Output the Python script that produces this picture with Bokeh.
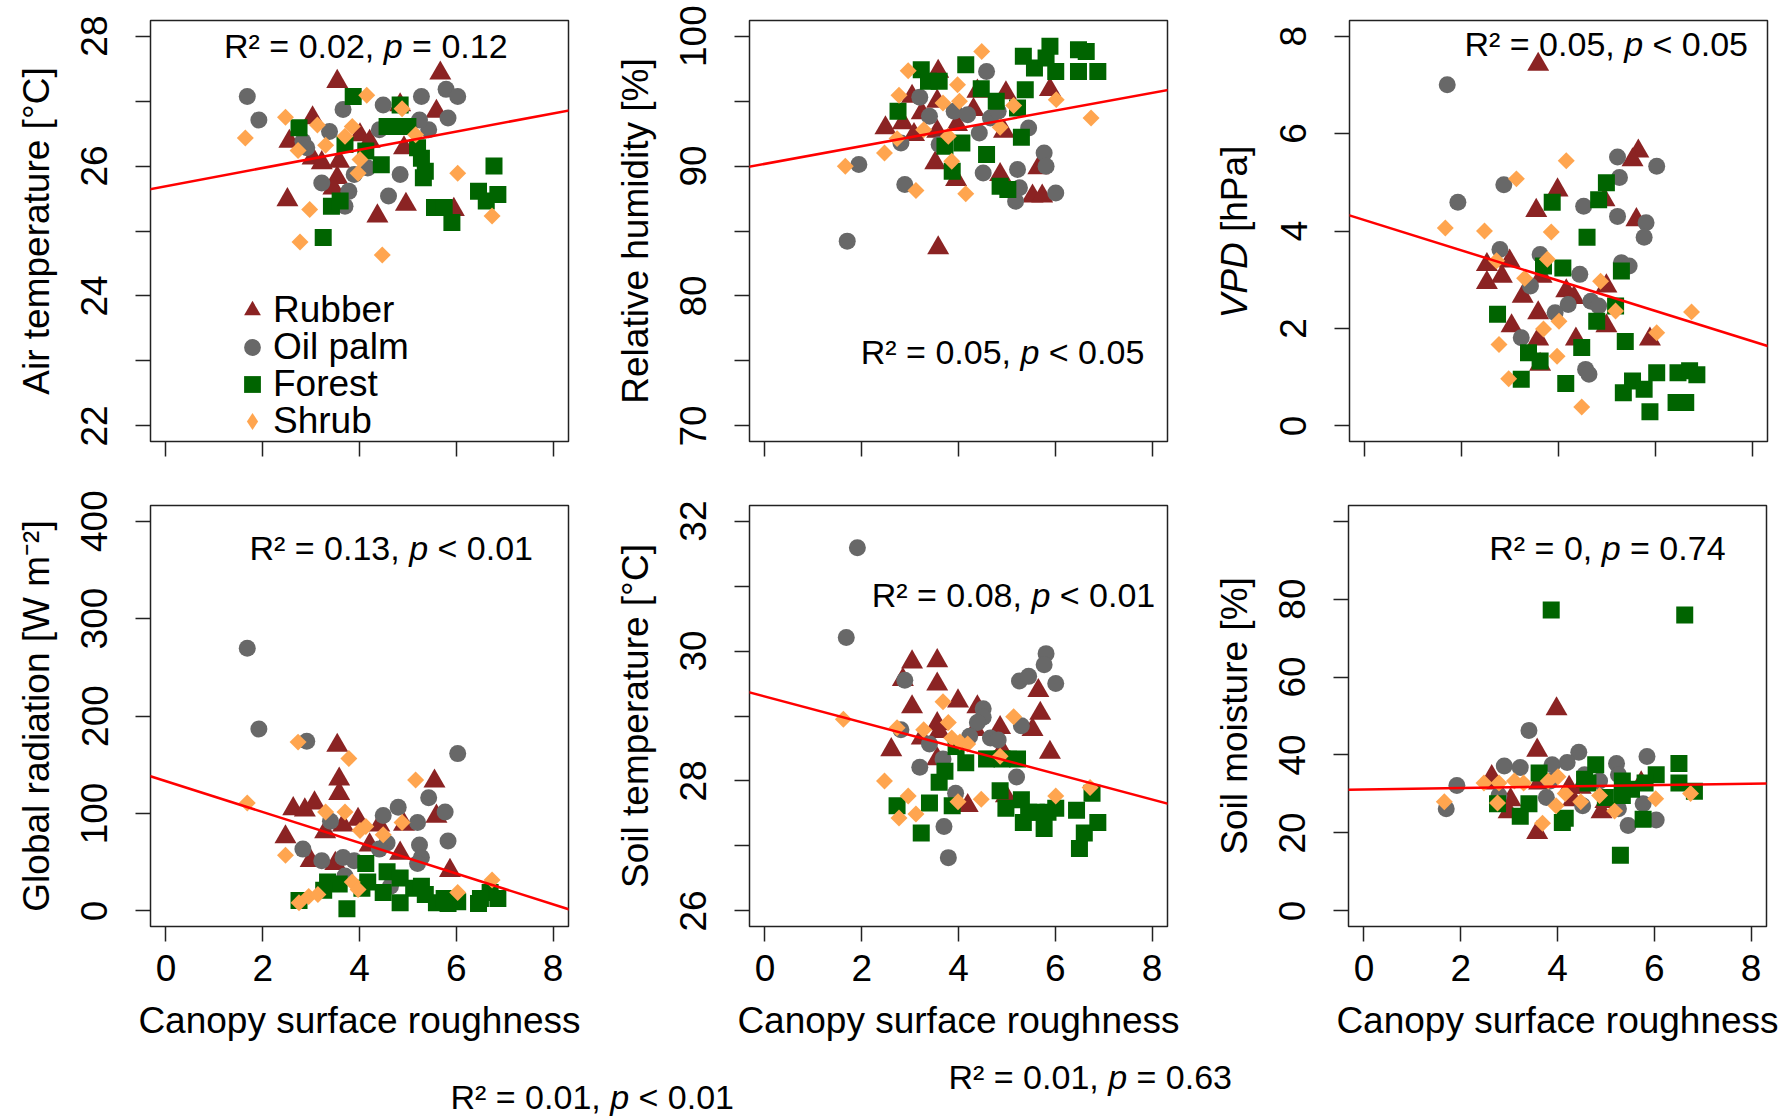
import math
from bokeh.plotting import figure
from bokeh.models import Range1d, FixedTicker, Slope, Legend, LegendItem
from bokeh.layouts import column, row
from bokeh.embed import file_html
from bokeh.resources import INLINE
from bokeh.core.properties import value

# ------------------------------------------------------------------ data
groups = ["Rubber", "Oil palm", "Forest", "Shrub"]
x_ticks = [0, 2, 4, 6, 8]
x_title = "Canopy surface roughness"

# Panel 1: air temperature
AT_rub_x = [3.54, 5.67, 4.84, 3.03, 5.59, 2.55, 4.01, 4.21, 3.03, 3.22, 3.58, 3.54, 3.46, 4.92, 2.51, 4.37, 4.96, 5.95]
AT_rub_y = [27.30, 27.43, 26.94, 26.74, 26.84, 26.38, 26.48, 26.38, 26.12, 26.05, 26.07, 25.82, 25.66, 26.28, 25.48, 25.23, 25.41, 25.33]
AT_oil_x = [1.68, 1.92, 3.66, 4.49, 5.28, 5.79, 6.03, 5.83, 3.38, 4.41, 5.43, 2.83, 2.91, 5.24, 4.17, 4.84, 3.22, 3.78, 4.60, 3.70, 3.89]
AT_oil_y = [27.07, 26.71, 26.87, 26.94, 27.07, 27.18, 27.07, 26.74, 26.53, 26.56, 26.56, 26.38, 26.28, 26.71, 25.97, 25.87, 25.74, 25.61, 25.54, 25.38, 25.87]
AT_for_x = [2.75, 3.87, 4.84, 4.57, 4.80, 5.00, 3.70, 4.13, 5.20, 5.28, 5.36, 5.32, 4.45, 6.78, 6.46, 6.62, 6.86, 3.42, 3.60, 5.55, 5.75, 5.91, 3.25]
AT_for_y = [26.59, 27.07, 26.94, 26.61, 26.61, 26.61, 26.33, 26.23, 26.28, 26.12, 25.92, 25.82, 26.02, 26.00, 25.61, 25.46, 25.56, 25.38, 25.46, 25.36, 25.36, 25.13, 24.90]
AT_shr_x = [1.64, 2.47, 3.13, 2.73, 3.30, 3.70, 3.85, 4.15, 4.88, 5.16, 4.01, 3.97, 6.03, 2.97, 6.74, 2.77, 4.47]
AT_shr_y = [26.43, 26.75, 26.63, 26.24, 26.32, 26.46, 26.61, 27.09, 26.88, 26.48, 26.10, 25.89, 25.89, 25.33, 25.23, 24.83, 24.63]

# Panel 2: relative humidity
RH_rub_x = [3.58, 5.89, 4.98, 4.39, 3.04, 3.56, 3.24, 4.31, 2.49, 2.85, 3.08, 3.56, 3.97, 4.94, 3.52, 3.95, 4.86, 5.65, 5.53, 5.73, 3.58]
RH_rub_y = [97.28, 95.87, 95.62, 95.75, 95.36, 94.98, 94.08, 94.34, 92.93, 93.31, 92.42, 92.67, 93.18, 92.67, 90.24, 88.96, 89.34, 89.85, 87.68, 87.68, 83.70]
RH_oil_x = [1.70, 1.94, 2.89, 3.20, 3.40, 2.81, 3.91, 4.19, 4.58, 4.66, 4.43, 4.82, 5.45, 5.26, 5.22, 5.18, 4.51, 5.77, 5.81, 6.01, 3.60]
RH_oil_y = [84.22, 90.11, 88.57, 95.29, 93.83, 91.78, 94.21, 93.95, 97.28, 93.70, 92.54, 94.21, 92.93, 88.32, 89.73, 87.29, 89.47, 91.01, 89.98, 87.93, 91.65]
RH_for_x = [3.23, 3.38, 3.60, 2.75, 4.15, 4.47, 4.78, 5.22, 5.38, 5.34, 5.57, 5.81, 5.89, 6.01, 6.48, 6.64, 6.48, 6.88, 5.30, 3.72, 4.07, 4.58, 3.87, 4.86, 5.02]
RH_for_y = [97.41, 96.52, 96.52, 94.21, 97.80, 95.95, 94.98, 94.47, 95.88, 98.44, 97.54, 98.31, 99.21, 97.28, 98.95, 98.82, 97.28, 97.28, 92.21, 91.52, 91.78, 90.88, 89.60, 88.44, 88.19]
RH_shr_x = [1.66, 2.47, 2.73, 2.77, 2.96, 3.12, 3.28, 3.68, 3.79, 3.86, 3.98, 4.02, 4.15, 4.48, 4.86, 5.14, 6.02, 6.74]
RH_shr_y = [89.98, 91.01, 92.11, 95.44, 97.34, 88.11, 92.80, 94.85, 92.29, 90.37, 96.26, 94.98, 87.86, 98.82, 92.98, 94.65, 95.11, 93.70]

# Panel 3: vapour pressure deficit
VPD_rub_x = [3.58, 5.65, 5.53, 3.98, 3.54, 4.95, 5.61, 2.52, 2.99, 2.52, 2.83, 3.65, 3.26, 4.16, 4.32, 3.58, 3.03, 4.99, 3.58, 4.36, 5.89, 3.62, 4.99]
VPD_rub_y = [7.42, 5.64, 5.46, 4.84, 4.42, 4.64, 4.23, 3.31, 3.38, 2.94, 3.07, 3.07, 2.66, 2.77, 2.63, 2.32, 2.05, 2.05, 1.78, 1.78, 1.78, 1.26, 2.87]
VPD_oil_x = [1.70, 1.92, 2.87, 2.79, 5.22, 5.26, 6.03, 4.52, 5.22, 5.81, 5.77, 3.62, 4.44, 5.30, 5.46, 3.42, 4.20, 4.67, 4.83, 3.93, 3.23, 4.56, 4.63]
VPD_oil_y = [7.00, 4.59, 4.95, 3.62, 5.52, 5.10, 5.33, 4.51, 4.30, 4.17, 3.87, 3.52, 3.11, 3.35, 3.28, 2.87, 2.49, 2.56, 2.46, 2.32, 1.81, 1.16, 1.06]
VPD_for_x = [4.99, 4.83, 3.87, 4.59, 3.69, 4.09, 5.30, 5.18, 2.74, 4.79, 5.38, 4.48, 3.38, 3.62, 3.23, 4.15, 5.34, 5.53, 5.77, 6.03, 5.89, 6.47, 6.71, 6.86, 6.43, 6.63]
VPD_for_y = [4.99, 4.64, 4.59, 3.87, 3.28, 3.24, 3.18, 2.46, 2.29, 2.15, 1.73, 1.61, 1.50, 1.33, 0.96, 0.87, 0.68, 0.92, 0.75, 1.09, 0.29, 1.09, 1.13, 1.05, 0.48, 0.48]
VPD_shr_x = [1.66, 2.47, 2.72, 3.13, 4.16, 3.85, 3.77, 3.30, 4.87, 5.18, 3.69, 4.01, 2.77, 3.97, 2.97, 6.03, 6.75, 4.48]
VPD_shr_y = [4.06, 4.00, 3.39, 5.07, 5.44, 3.98, 3.42, 3.03, 2.97, 2.36, 1.99, 2.15, 1.67, 1.43, 0.97, 1.91, 2.34, 0.39]

# Panel 4: global radiation
RAD_rub_x = [3.54, 3.58, 3.58, 5.55, 2.63, 2.87, 3.07, 2.47, 3.29, 3.97, 3.66, 4.41, 5.59, 4.92, 4.84, 4.21, 2.99, 3.50, 5.87]
RAD_rub_y = [169.8, 135.2, 120.4, 133.1, 104.8, 103.5, 110.7, 76.0, 81.1, 93.8, 87.9, 87.9, 97.1, 88.7, 59.1, 67.6, 51.5, 48.6, 41.4]
RAD_oil_x = [1.68, 1.92, 2.91, 6.03, 5.43, 5.77, 4.80, 4.49, 5.20, 3.40, 5.83, 5.24, 4.57, 4.41, 2.83, 3.22, 3.66, 3.89, 5.28, 5.20, 3.70, 4.64]
RAD_oil_y = [269.5, 186.7, 174.0, 161.4, 116.2, 101.4, 106.4, 98.0, 90.8, 92.1, 71.8, 67.6, 69.7, 63.4, 63.4, 51.5, 54.9, 51.5, 54.9, 48.6, 35.9, 25.3]
RAD_for_x = [4.13, 4.57, 4.84, 3.34, 3.58, 4.17, 4.49, 5.12, 5.28, 5.36, 4.84, 5.59, 5.83, 6.03, 6.46, 6.70, 6.86, 6.50, 2.75, 3.26, 3.74, 4.05, 5.75]
RAD_for_y = [48.6, 40.1, 33.8, 29.6, 27.5, 29.6, 19.0, 23.2, 25.3, 16.9, 8.4, 8.4, 7.6, 9.3, 7.6, 19.0, 12.7, 12.7, 10.6, 21.1, 2.1, 23.2, 12.7]
RAD_shr_x = [1.68, 2.47, 2.73, 3.78, 3.30, 3.70, 4.01, 4.13, 4.49, 4.88, 5.16, 2.75, 2.95, 3.14, 3.85, 3.97, 6.03, 6.74]
RAD_shr_y = [110.7, 57.0, 173.2, 156.3, 101.4, 101.4, 82.4, 86.6, 78.1, 90.8, 134.3, 8.4, 14.8, 16.9, 29.6, 22.0, 19.0, 31.7]

# Panel 5: soil temperature
ST_rub_x = [3.04, 3.56, 3.56, 2.85, 3.99, 3.04, 4.39, 5.65, 5.69, 5.53, 4.86, 3.56, 3.60, 4.35, 3.24, 2.61, 5.89, 4.90, 4.19, 4.98, 3.56]
ST_rub_y = [29.83, 29.85, 29.49, 29.56, 29.23, 29.14, 29.14, 29.39, 29.04, 28.79, 28.82, 28.88, 28.76, 28.79, 28.66, 28.48, 28.44, 28.47, 27.62, 27.77, 28.34]
ST_oil_x = [1.91, 1.68, 2.89, 5.81, 5.77, 6.01, 5.26, 5.45, 4.51, 4.51, 4.39, 5.30, 4.66, 4.82, 4.23, 2.81, 3.40, 3.68, 3.20, 5.20, 3.94, 3.70, 3.79]
ST_oil_y = [31.59, 30.21, 29.55, 29.96, 29.79, 29.50, 29.54, 29.61, 29.11, 28.98, 28.90, 28.85, 28.66, 28.63, 28.69, 28.79, 28.57, 28.34, 28.21, 28.06, 27.81, 27.30, 26.82]
ST_for_x = [3.72, 3.60, 3.95, 4.15, 4.58, 4.90, 5.22, 2.73, 3.40, 3.23, 3.87, 4.86, 4.98, 5.30, 5.45, 5.34, 5.61, 5.77, 6.01, 5.85, 6.44, 6.76, 6.60, 6.88, 6.50]
ST_for_y = [28.15, 27.98, 28.53, 28.28, 28.34, 28.34, 28.34, 27.62, 27.66, 27.20, 27.62, 27.85, 27.58, 27.71, 27.52, 27.36, 27.52, 27.27, 27.58, 27.52, 27.55, 27.81, 27.20, 27.36, 26.96]
ST_shr_x = [1.62, 2.47, 2.73, 2.96, 2.77, 3.12, 3.28, 3.68, 3.79, 3.86, 4.03, 4.19, 3.99, 4.47, 4.86, 5.14, 6.01, 6.72]
ST_shr_y = [28.95, 28.00, 28.82, 27.77, 27.43, 27.49, 28.79, 29.22, 28.90, 28.66, 28.60, 28.57, 27.68, 27.72, 28.38, 28.99, 27.77, 27.90]

# Panel 6: soil moisture
SM_rub_x = [3.98, 3.58, 3.58, 2.64, 3.03, 2.99, 4.91, 5.73, 4.24, 3.62, 4.32, 4.48, 4.99, 2.68]
SM_rub_y = [51.8, 41.2, 20.1, 34.4, 28.5, 25.4, 25.4, 32.8, 31.7, 32.8, 28.5, 31.7, 28.0, 32.8]
SM_oil_x = [3.41, 4.44, 5.85, 2.90, 3.23, 3.89, 4.20, 5.22, 1.92, 1.70, 2.79, 3.77, 4.52, 5.26, 5.46, 5.77, 6.04, 4.56, 4.87, 3.85, 5.26]
SM_oil_y = [46.3, 40.7, 39.6, 37.2, 36.8, 37.5, 38.1, 37.8, 32.2, 26.2, 29.6, 29.1, 27.0, 26.2, 21.9, 27.5, 23.3, 34.9, 33.3, 33.3, 34.9]
SM_for_x = [3.87, 6.63, 6.51, 4.79, 3.62, 4.56, 6.04, 5.81, 6.51, 5.34, 5.53, 5.34, 6.83, 4.99, 2.76, 3.41, 3.23, 4.16, 4.10, 5.77, 5.30, 4.63]
SM_for_y = [77.2, 75.9, 37.8, 37.5, 35.4, 33.8, 34.9, 32.8, 32.8, 33.3, 31.2, 29.6, 30.7, 29.1, 27.5, 27.5, 24.3, 23.8, 22.7, 23.5, 14.3, 32.8]
SM_shr_x = [1.66, 2.48, 2.76, 3.11, 3.30, 3.81, 4.01, 4.16, 3.97, 3.69, 4.48, 4.87, 5.18, 6.03, 6.75, 2.79]
SM_shr_y = [28.0, 32.8, 27.7, 33.3, 32.8, 33.3, 34.4, 30.1, 27.0, 22.5, 28.0, 29.6, 25.6, 28.8, 30.1, 32.8]

# regression lines (slope, intercept)
AT_fit = (0.14, 25.69)
RH_fit = (0.682, 90.17)
VPD_fit = (-0.31, 4.22)
RAD_fit = (-15.79, 133.05)
ST_fit = (-0.198, 29.30)
SM_fit = (0.185, 31.16)

# statistics (R2, operator, p)
AT_stat = ("0.02", "=", "0.12")
RH_stat = ("0.05", "<", "0.05")
VPD_stat = ("0.05", "<", "0.05")
RAD_stat = ("0.13", "<", "0.01")
ST_stat = ("0.08", "<", "0.01")
SM_stat = ("0", "=", "0.74")
extra_stat_1 = ("0.01", "<", "0.01")
extra_stat_2 = ("0.01", "=", "0.63")

# y axes
AT_ticks, AT_labeled = [22, 23, 24, 25, 26, 27, 28], [22, 24, 26, 28]
RH_ticks, RH_labeled = [70, 75, 80, 85, 90, 95, 100], [70, 80, 90, 100]
VPD_ticks, VPD_labeled = [0, 2, 4, 6, 8], [0, 2, 4, 6, 8]
RAD_ticks, RAD_labeled = [0, 100, 200, 300, 400], [0, 100, 200, 300, 400]
ST_ticks, ST_labeled = [26, 27, 28, 29, 30, 31, 32], [26, 28, 30, 32]
SM_ticks, SM_labeled = [0, 20, 40, 60, 80, 100], [0, 20, 40, 60, 80]

# ------------------------------------------------------------------ style
FONT = "Liberation Sans"
COL = {"Rubber": "#8B2323", "Oil palm": "#686868", "Forest": "#006400", "Shrub": "#FFA54F"}
MARK = {"Rubber": ("triangle", 22, 0.0), "Oil palm": ("circle", 17, 0.0),
        "Forest": ("square", 17, 0.0), "Shrub": ("square", 12, math.pi / 4)}
INK = "#222222"
FW, FH = 418, 421
TOP = 20
ROW1_H = 485
XR = (-0.32, 8.32)
NB = "\u00a0"

WID = {" ": 278, NB: 278, ",": 278, ".": 278, "=": 584, "<": 584, "R": 722, "\u00b2": 333, "p": 556,
       "V": 667, "P": 667, "D": 722, "[": 278, "]": 278, "h": 556, "a": 556}


def tw(s, size):
    return sum(WID.get(c, 556) for c in s) * size / 1000.0


def stat_text(p, x, y, stat, size=34):
    r2, op, pv = stat
    pieces = [("R\u00b2" + NB + "=" + NB + r2 + "," + NB, "normal"), ("p", "italic"),
              (NB + op + NB + pv, "normal")]
    off = 0.0
    for s, style in pieces:
        p.text(x=[x], y=[y], text=[s], x_offset=off, text_font=value(FONT),
               text_font_size="%dpx" % size, text_font_style=style,
               text_baseline="alphabetic", text_align="left", text_color="black")
        off += tw(s, size)


def style_axis(ax):
    ax.axis_line_color = None
    ax.major_tick_line_color = INK
    ax.major_tick_line_width = 1.5
    ax.major_tick_out = 15
    ax.major_tick_in = 0
    ax.minor_tick_line_color = None
    ax.major_label_text_font = FONT
    ax.major_label_text_font_size = "37px"
    ax.major_label_text_color = "black"
    ax.axis_label_text_font = FONT
    ax.axis_label_text_font_size = "37px"
    ax.axis_label_text_font_style = "normal"
    ax.axis_label_text_color = "black"


def panel(series, yrange, yticks, ylabeled, ylabel, fit, stat, stat_pos, bottom, bl, br):
    p = figure(frame_width=FW, frame_height=FH, x_range=Range1d(*XR), y_range=Range1d(*yrange),
               min_border_left=bl, min_border_right=br, min_border_top=TOP,
               min_border_bottom=130 if bottom else 44, title=None,
               output_backend="svg", toolbar_location=None)
    p.grid.visible = False
    p.outline_line_color = INK
    p.outline_line_width = 1.5
    rends = []
    for (xs, ys), name in zip(series, groups):
        n = min(len(xs), len(ys))
        mk, sz, ang = MARK[name]
        r = p.scatter(xs[:n], ys[:n], marker=mk, size=sz, angle=ang,
                      fill_color=COL[name], line_color=None)
        rends.append(r)
    p.add_layout(Slope(gradient=fit[0], y_intercept=fit[1], line_color="#FF0000", line_width=2.5))

    xa = p.xaxis[0]
    style_axis(xa)
    xa.ticker = FixedTicker(ticks=x_ticks, minor_ticks=[])
    if bottom:
        xa.major_label_standoff = 13
        xa.axis_label = x_title
        xa.axis_label_standoff = 16
    else:
        xa.major_label_overrides = {t: "" for t in x_ticks}
        xa.major_label_text_font_size = "0px"
        xa.major_label_standoff = 0

    ya = p.yaxis[0]
    style_axis(ya)
    ya.ticker = FixedTicker(ticks=yticks, minor_ticks=[])
    ya.major_label_overrides = {t: "" for t in yticks if t not in ylabeled}
    ya.major_label_orientation = "vertical"
    ya.major_label_standoff = 28
    if ylabel is not None:
        ya.axis_label = ylabel
        ya.axis_label_standoff = 22

    stat_text(p, stat_pos[0], stat_pos[1], stat)
    return p, rends


p1, r1 = panel([(AT_rub_x, AT_rub_y), (AT_oil_x, AT_oil_y), (AT_for_x, AT_for_y), (AT_shr_x, AT_shr_y)],
               (21.76, 28.24), AT_ticks, AT_labeled, "Air temperature [\u00b0C]", AT_fit, AT_stat,
               (1.20, 27.84), False, 150, 31)
p2, _ = panel([(RH_rub_x, RH_rub_y), (RH_oil_x, RH_oil_y), (RH_for_x, RH_for_y), (RH_shr_x, RH_shr_y)],
              (68.8, 101.2), RH_ticks, RH_labeled, "Relative humidity [%]", RH_fit, RH_stat,
              (1.98, 75.70), False, 150, 31)
p3, _ = panel([(VPD_rub_x, VPD_rub_y), (VPD_oil_x, VPD_oil_y), (VPD_for_x, VPD_for_y), (VPD_shr_x, VPD_shr_y)],
              (-0.32, 8.32), VPD_ticks, VPD_labeled, None, VPD_fit, VPD_stat,
              (2.057, 7.835), False, 88, 18)
p4, _ = panel([(RAD_rub_x, RAD_rub_y), (RAD_oil_x, RAD_oil_y), (RAD_for_x, RAD_for_y), (RAD_shr_x, RAD_shr_y)],
              (-16, 416), RAD_ticks, RAD_labeled, "Global radiation [W m\u207b\u00b2]", RAD_fit, RAD_stat,
              (1.726, 372.6), True, 150, 31)
p5, _ = panel([(ST_rub_x, ST_rub_y), (ST_oil_x, ST_oil_y), (ST_for_x, ST_for_y), (ST_shr_x, ST_shr_y)],
              (25.76, 32.24), ST_ticks, ST_labeled, "Soil temperature [\u00b0C]", ST_fit, ST_stat,
              (2.206, 30.86), True, 150, 31)
p6, _ = panel([(SM_rub_x, SM_rub_y), (SM_oil_x, SM_oil_y), (SM_for_x, SM_for_y), (SM_shr_x, SM_shr_y)],
              (-4, 104), SM_ticks, SM_labeled, "Soil moisture [%]", SM_fit, SM_stat,
              (2.59, 93.1), True, 150, 31)

# VPD axis title (italic VPD) in a narrow strip left of the third panel
VW = 63
vfig = figure(frame_width=VW, frame_height=ROW1_H, min_border=0, x_range=Range1d(0, VW),
              y_range=Range1d(0, ROW1_H), x_axis_type=None, y_axis_type=None, title=None,
              output_backend="svg", toolbar_location=None)
vfig.outline_line_color = None
vfig.grid.visible = False
w1 = tw("VPD", 37)
wsp = tw(" ", 37)
w2 = tw("[hPa]", 37)
v_start = ROW1_H - (TOP + FH / 2 + (w1 + wsp + w2) / 2) + 19
v_x = 36
vfig.text(x=[v_x], y=[v_start], text=["VPD"], angle=math.pi / 2, text_font=value(FONT),
          text_font_size="37px", text_font_style="italic", text_baseline="alphabetic",
          text_align="left", text_color="black")
vfig.text(x=[v_x], y=[v_start + w1 + wsp], text=["[hPa]"], angle=math.pi / 2, text_font=value(FONT),
          text_font_size="37px", text_font_style="normal", text_baseline="alphabetic",
          text_align="left", text_color="black")

# legend in first panel: one single-entry legend per group, stacked like R's legend
nan = float("nan")
key_shrub = p1.scatter([nan], [nan], marker="diamond", size=17, fill_color=COL["Shrub"], line_color=None)
legend_rends = [r1[0], r1[1], r1[2], key_shrub]
legend_rows = [109, 72, 35, -2]
for g, r, ly in zip(groups, legend_rends, legend_rows):
    lg = Legend(items=[LegendItem(label=g, renderers=[r])], location=(81, ly),
                orientation="vertical", glyph_width=42, glyph_height=44, label_height=44,
                spacing=0, padding=0, margin=0, label_standoff=0,
                border_line_color=None, background_fill_alpha=0,
                label_text_font=FONT, label_text_font_size="37px", label_text_color="black")
    p1.add_layout(lg)

# strip with two additional statistics below the panels
strip = figure(frame_width=1785, frame_height=60, min_border=0, x_range=Range1d(0, 1785),
               y_range=Range1d(60, 0), x_axis_type=None, y_axis_type=None, title=None,
               output_backend="svg", toolbar_location=None)
strip.outline_line_color = None
strip.grid.visible = False
stat_text(strip, 450, 40, extra_stat_1)
stat_text(strip, 948, 20, extra_stat_2)

layout = column(row(p1, p2, vfig, p3), row(p4, p5, p6), strip)
open("out.html", "w").write(file_html(layout, INLINE))
